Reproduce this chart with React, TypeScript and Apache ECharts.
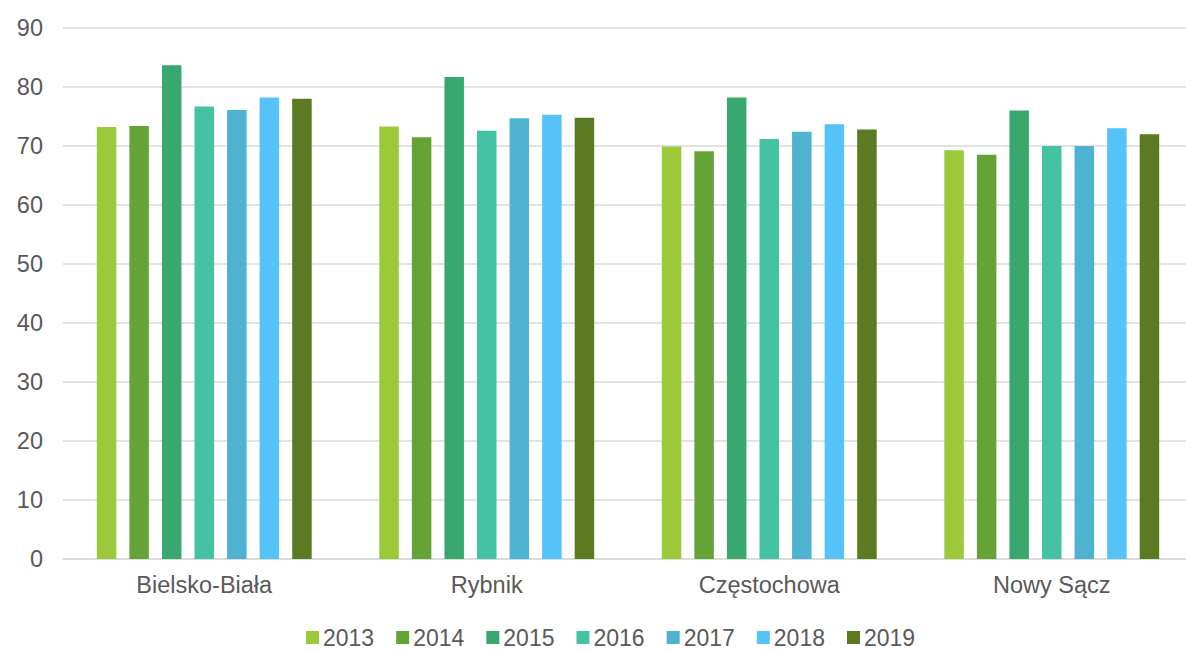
import React, { useEffect, useRef } from "react";
import * as echarts from "echarts";

const categories = ["Bielsko-Biała", "Rybnik", "Częstochowa", "Nowy Sącz"];
const years = ["2013", "2014", "2015", "2016", "2017", "2018", "2019"];
const values2013 = [73.2, 73.3, 69.9, 69.3];
const values2014 = [73.4, 71.5, 69.1, 68.5];
const values2015 = [83.7, 81.7, 78.2, 76.0];
const values2016 = [76.7, 72.6, 71.2, 70.0];
const values2017 = [76.1, 74.7, 72.4, 70.0];
const values2018 = [78.2, 75.3, 73.7, 73.0];
const values2019 = [78.0, 74.8, 72.8, 72.0];
const seriesValues = [values2013, values2014, values2015, values2016, values2017, values2018, values2019];
const colors = ["#9BC93A", "#66A337", "#38A86E", "#45C2A4", "#4DB3D1", "#55C3F8", "#5C7A22"];
const yTicks = [0, 10, 20, 30, 40, 50, 60, 70, 80, 90];

export default function App() {
  const ref = useRef<HTMLDivElement>(null);
  useEffect(() => {
    if (!ref.current) return;
    const chart = echarts.init(ref.current, null, { renderer: "svg" });
    const font = "Liberation Sans, Arial, sans-serif";
    chart.setOption({
      animation: false,
      textStyle: { fontFamily: font },
      grid: { left: 63, right: 7, top: 28, bottom: 91, containLabel: false },
      legend: {
        data: years,
        top: 621,
        left: 301,
        itemWidth: 13,
        itemHeight: 13,
        itemGap: 22,
        icon: "rect",
        textStyle: { fontSize: 23, lineHeight: 20, color: "#595959", fontFamily: font, padding: [0, 0, 0, -1] },
      },
      xAxis: {
        type: "category",
        data: categories,
        axisTick: { show: false },
        axisLine: { lineStyle: { color: "#d9d9d9", width: 1.5 } },
        axisLabel: { fontSize: 23.5, color: "#595959", margin: 14, fontFamily: font },
      },
      yAxis: {
        type: "value",
        min: yTicks[0],
        max: yTicks[yTicks.length - 1],
        interval: 10,
        axisLine: { show: false },
        axisTick: { show: false },
        axisLabel: { fontSize: 23.5, color: "#595959", margin: 20, fontFamily: font },
        splitLine: { lineStyle: { color: "#d9d9d9", width: 1.5 } },
      },
      series: years.map((y, i) => ({
        name: y,
        type: "bar",
        data: seriesValues[i],
        barWidth: 19.5,
        barGap: "67%",
        itemStyle: { color: colors[i] },
      })),
    });
    return () => chart.dispose();
  }, []);
  return (
    <div style={{ position: "absolute", left: 0, top: 0, width: 1186, height: 650, overflow: "hidden", background: "#fff" }}>
      <div ref={ref} style={{ width: 1200, height: 650 }} />
    </div>
  );
}
